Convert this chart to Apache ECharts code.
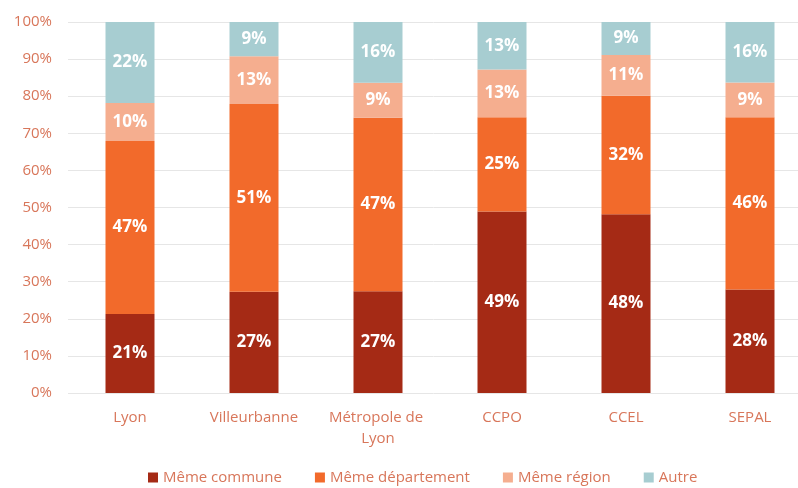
<!DOCTYPE html>
<html><head><meta charset="utf-8">
<script src="https://cdn.jsdelivr.net/npm/echarts@6/dist/echarts.min.js"></script>
<style>html,body{margin:0;padding:0;background:#fff}#c{width:798px;height:488px}</style>
</head><body><div id="c"></div>
<script>
const categories = ["Lyon", "Villeurbanne", "Métropole de Lyon", "CCPO", "CCEL", "SEPAL"];
const memeCommune = [21.3, 27.3, 27.4, 48.9, 48.2, 27.9];
const memeDepartement = [46.6, 50.6, 46.8, 25.4, 31.9, 46.4];
const memeRegion = [10.3, 12.9, 9.4, 12.9, 11.0, 9.4];
const autre = [21.8, 9.2, 16.4, 12.8, 8.9, 16.3];
const seriesNames = ["Même commune", "Même département", "Même région", "Autre"];
const colors = ["#A52A15", "#F26A2B", "#F5AE8F", "#A7CDD1"];
const yTicks = [0, 10, 20, 30, 40, 50, 60, 70, 80, 90, 100];

const font = "'Open Sans', 'Liberation Sans', sans-serif";
const chart = echarts.init(document.getElementById('c'), null, {renderer: 'canvas'});
const mk = (name, data, color) => ({
  name, type: 'bar', stack: 'total', data, barWidth: 49,
  itemStyle: {color},
  label: {show: true, position: 'inside', color: '#fff', fontWeight: 'bold', fontSize: 17, fontFamily: font,
    formatter: p => Math.round(p.value) + '%'}
});
chart.setOption({
  animation: false,
  color: colors,
  grid: {left: 68, width: 744, top: 22, height: 371, containLabel: false, outerBoundsMode: 'none'},
  legend: {bottom: -2, left: 143, itemWidth: 10, itemHeight: 10, itemGap: 33, icon: 'rect',
    textStyle: {color: '#D8765A', fontSize: 15, fontFamily: font}},
  xAxis: {type: 'category', data: categories,
    axisLine: {show: false}, axisTick: {show: false},
    axisLabel: {interval: 0, color: '#D8765A', fontSize: 15, fontFamily: font, margin: 14, width: 110, overflow: 'break', lineHeight: 21}},
  yAxis: {type: 'value', min: 0, max: 100, interval: 10,
    axisLabel: {color: '#D8765A', fontSize: 15, fontFamily: font, margin: 16,
      formatter: v => yTicks.includes(v) ? v + '%' : ''},
    splitLine: {lineStyle: {color: '#E6E6E6'}},
    axisLine: {show: false}, axisTick: {show: false}},
  series: [
    mk(seriesNames[0], memeCommune, colors[0]),
    mk(seriesNames[1], memeDepartement, colors[1]),
    mk(seriesNames[2], memeRegion, colors[2]),
    mk(seriesNames[3], autre, colors[3])
  ]
});
</script></body></html>
